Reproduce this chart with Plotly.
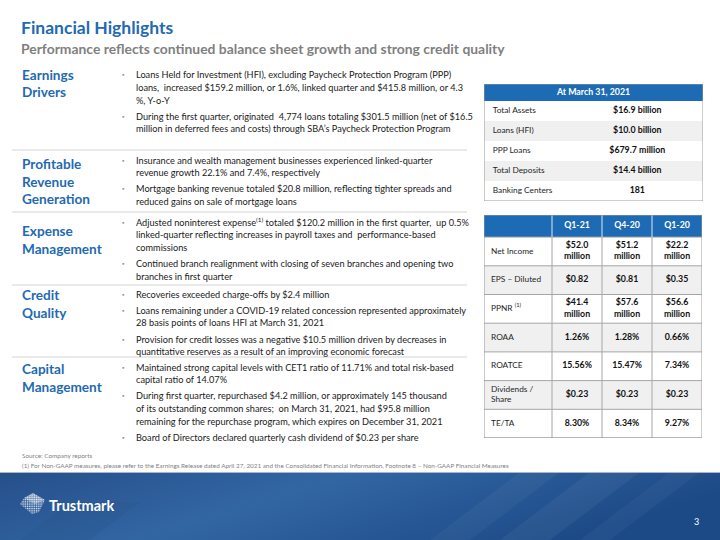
import base64
import plotly.graph_objects as go

W, H = 720, 540
FONT = "Lato"

# ---------------- data ----------------
title = "Financial Highlights"
subtitle = "Performance reflects continued balance sheet growth and strong credit quality"

section_labels = [
    ["Earnings", "Drivers"],
    ["Profitable", "Revenue", "Generation"],
    ["Expense", "Management"],
    ["Credit", "Quality"],
    ["Capital", "Management"],
]

section_bullets = [
    [
        ["Loans Held for Investment (HFI), excluding Paycheck Protection Program (PPP)",
         "loans,  increased $159.2 million, or 1.6%, linked quarter and $415.8 million, or 4.3",
         "%, Y-o-Y"],
        ["During the first quarter, originated  4,774 loans totaling $301.5 million (net of $16.5",
         "million in deferred fees and costs) through SBA’s Paycheck Protection Program"],
    ],
    [
        ["Insurance and wealth management businesses experienced linked-quarter",
         "revenue growth 22.1% and 7.4%, respectively"],
        ["Mortgage banking revenue totaled $20.8 million, reflecting tighter spreads and",
         "reduced gains on sale of mortgage loans"],
    ],
    [
        ["Adjusted noninterest expense<sup>(1)</sup> totaled $120.2 million in the first quarter,  up 0.5%",
         "linked-quarter reflecting increases in payroll taxes and  performance-based",
         "commissions"],
        ["Continued branch realignment with closing of seven branches and opening two",
         "branches in first quarter"],
    ],
    [
        ["Recoveries exceeded charge-offs by $2.4 million"],
        ["Loans remaining under a COVID-19 related concession represented approximately",
         "28 basis points of loans HFI at March 31, 2021"],
        ["Provision for credit losses was a negative $10.5 million driven by decreases in",
         "quantitative reserves as a result of an improving economic forecast"],
    ],
    [
        ["Maintained strong capital levels with CET1 ratio of 11.71% and total risk-based",
         "capital ratio of 14.07%"],
        ["During first quarter, repurchased $4.2 million, or approximately 145 thousand",
         "of its outstanding common shares;  on March 31, 2021, had $95.8 million",
         "remaining for the repurchase program, which expires on December 31, 2021"],
        ["Board of Directors declared quarterly cash dividend of $0.23 per share"],
    ],
]

t1_header = "At March 31, 2021"
t1_labels = ["Total Assets", "Loans (HFI)", "PPP Loans", "Total Deposits", "Banking Centers"]
t1_values = ["$16.9 billion", "$10.0 billion", "$679.7 million", "$14.4 billion", "181"]

t2_columns = ["Q1-21", "Q4-20", "Q1-20"]
t2_labels = ["Net Income", "EPS – Diluted", "PPNR <sup>(1)</sup>", "ROAA", "ROATCE",
             "Dividends /<br>Share", "TE/TA"]
t2_q1_21 = ["$52.0<br>million", "$0.82", "$41.4<br>million", "1.26%", "15.56%", "$0.23", "8.30%"]
t2_q4_20 = ["$51.2<br>million", "$0.81", "$57.6<br>million", "1.28%", "15.47%", "$0.23", "8.34%"]
t2_q1_20 = ["$22.2<br>million", "$0.35", "$56.6<br>million", "0.66%", "7.34%", "$0.23", "9.27%"]

source_note = "Source: Company reports"
footnote = ("(1) For Non-GAAP measures, please refer to the Earnings Release dated April 27, 2021 and the "
            "Consolidated Financial Information, Footnote 8 – Non-GAAP Financial Measures")
brand = "Trustmark"
page_no = "3"

# ---------------- styles / layout constants ----------------
BLUE = "#1f6ab3"
HEAD_BLUE = "#1d6bb5"
GRAY_TXT = "#7f7f7f"
BODY = "#1a1a1a"
ROW_GRAY = "#f0f0f0"
GRID = "#a6a6a6"


def px(x):
    return x / W


def py(y):
    return 1 - y / H


annotations = []
shapes = []


def text(x, y, s, size, color, bold=False, xanchor="left", family=FONT):
    annotations.append(dict(
        x=px(x), y=py(y), xref="paper", yref="paper", text=(f"<b>{s}</b>" if bold else s),
        showarrow=False, xanchor=xanchor, yanchor="middle", align="left",
        font=dict(family=family, size=size, color=color)))


# title block
text(19, 27, title, 17.5, BLUE, bold=True)
text(19, 48, subtitle, 13.9, GRAY_TXT, bold=True)

# sections
label_top = [75, 164, 231, 295, 369]
bullet_top = [75, 160, 222, 294, 367]
dividers = [150, 212, 285, 357]
LBL_STEP = 17.5
LINE_STEP = 12.6
BULLET_GAP = 3.6

for i, lines in enumerate(section_labels):
    for j, ln in enumerate(lines):
        text(20, label_top[i] + j * LBL_STEP, ln, 13.6, BLUE, bold=True)
    y = bullet_top[i]
    for bullet in section_bullets[i]:
        text(120, y, "▪", 6, "#8c8c8c")
        for ln in bullet:
            text(134, y, ln, 9.2, BODY)
            y += LINE_STEP
        y += BULLET_GAP

for yv in dividers:
    shapes.append(dict(type="line", xref="paper", yref="paper", x0=px(12), x1=px(467),
                       y0=py(yv), y1=py(yv), line=dict(color="#d4d4d4", width=1)))

# footer notes
text(20, 455, source_note, 6.35, GRAY_TXT)
text(20, 465, footnote, 6.35, GRAY_TXT)

# ---------------- band image ----------------
band_svg = """<svg xmlns='http://www.w3.org/2000/svg' width='720' height='68' viewBox='0 0 720 68'>
<defs>
<linearGradient id='g' x1='0' y1='0' x2='1' y2='0.3'>
<stop offset='0' stop-color='#264f8b'/>
<stop offset='0.45' stop-color='#3266a3'/>
<stop offset='1' stop-color='#1c4a87'/>
</linearGradient>
<pattern id='d' width='1.8' height='1.8' patternUnits='userSpaceOnUse'>
<rect width='1.1' height='1.1' fill='#ffffff'/>
</pattern>
</defs>
<rect width='720' height='68' fill='url(#g)'/>
<polygon points='430,68 520,0 560,0 470,68' fill='#ffffff' fill-opacity='0.04'/>
<polygon points='500,68 590,0 640,0 550,68' fill='#ffffff' fill-opacity='0.05'/>
<polygon points='580,68 670,0 700,0 610,68' fill='#ffffff' fill-opacity='0.04'/>
<polygon points='20,68 70,30 140,30 90,68' fill='#000000' fill-opacity='0.03'/>
<line x1='0' y1='0.5' x2='720' y2='0.5' stroke='#a9b6c8' stroke-width='1'/>
<polygon points='33,21 45,28 39,40 32,42 20,32 24,26' fill='url(#d)' fill-opacity='0.9'/>
<polygon points='33,21 45,28 35,32 24,26' fill='#ffffff' fill-opacity='0.35'/>
</svg>"""
band_uri = "data:image/svg+xml;base64," + base64.b64encode(band_svg.encode()).decode()

images = [dict(source=band_uri, xref="paper", yref="paper", x=0, y=py(472), sizex=1,
               sizey=68 / H, xanchor="left", yanchor="top", sizing="stretch", layer="below")]

text(47, 505, brand, 14.5, "#ffffff", bold=True)
text(692, 521, page_no, 9, "#ffffff")

fig = go.Figure()

# ---------------- table 1 (axes x / y) ----------------
T1_VALUE_CENTER = 0.70
T1_HEAD = 0.85
n1 = len(t1_labels)
shapes.append(dict(type="rect", xref="x", yref="y", x0=0, x1=1, y0=-T1_HEAD, y1=0,
                   fillcolor=HEAD_BLUE, line=dict(width=0), layer="below"))
for i in range(n1):
    shapes.append(dict(type="rect", xref="x", yref="y", x0=0, x1=1, y0=i, y1=i + 1,
                       fillcolor=(ROW_GRAY if i % 2 else "#ffffff"), line=dict(width=0), layer="below"))
shapes.append(dict(type="rect", xref="x", yref="y", x0=0, x1=1, y0=-T1_HEAD, y1=n1,
                   fillcolor="rgba(0,0,0,0)", line=dict(color="#9a9a9a", width=1)))

rows1 = [i + 0.5 for i in range(n1)]
fig.add_trace(go.Scatter(x=[0.5], y=[-T1_HEAD / 2], mode="text", text=[f"<b>{t1_header}</b>"],
                         textfont=dict(family=FONT, size=8.8, color="#ffffff"),
                         xaxis="x", yaxis="y", hoverinfo="skip", showlegend=False))
fig.add_trace(go.Scatter(x=[0.04] * n1, y=rows1, mode="text", text=t1_labels,
                         textposition="middle right",
                         textfont=dict(family=FONT, size=8.3, color="#262626"),
                         xaxis="x", yaxis="y", hoverinfo="skip", showlegend=False))
fig.add_trace(go.Scatter(x=[T1_VALUE_CENTER] * n1, y=rows1, mode="text",
                         text=[f"<b>{v}</b>" for v in t1_values],
                         textfont=dict(family=FONT, size=8.8, color="#111111"),
                         xaxis="x", yaxis="y", hoverinfo="skip", showlegend=False))

# ---------------- table 2 (axes x2 / y2) ----------------
T2_EDGES = [0, 1.36, 2.36, 3.36, 4.36]
T2_HEAD = 0.77
n2 = len(t2_labels)
shapes.append(dict(type="rect", xref="x2", yref="y2", x0=0, x1=T2_EDGES[-1], y0=-T2_HEAD, y1=0,
                   fillcolor=HEAD_BLUE, line=dict(width=0), layer="below"))
for i in range(n2):
    shapes.append(dict(type="rect", xref="x2", yref="y2", x0=0, x1=T2_EDGES[-1], y0=i, y1=i + 1,
                       fillcolor=(ROW_GRAY if i % 2 else "#ffffff"), line=dict(width=0), layer="below"))
for i in range(n2 + 1):
    shapes.append(dict(type="line", xref="x2", yref="y2", x0=0, x1=T2_EDGES[-1], y0=i, y1=i,
                       line=dict(color=GRID, width=1)))
for e in T2_EDGES[1:-1]:
    shapes.append(dict(type="line", xref="x2", yref="y2", x0=e, x1=e, y0=-T2_HEAD, y1=0,
                       line=dict(color="#dfe8f3", width=1)))
    shapes.append(dict(type="line", xref="x2", yref="y2", x0=e, x1=e, y0=0, y1=n2,
                       line=dict(color=GRID, width=1)))
shapes.append(dict(type="rect", xref="x2", yref="y2", x0=0, x1=T2_EDGES[-1], y0=-T2_HEAD, y1=n2,
                   fillcolor="rgba(0,0,0,0)", line=dict(color="#9a9a9a", width=1)))

rows2 = [i + 0.5 for i in range(n2)]
fig.add_trace(go.Scatter(x=[0.14] * n2, y=rows2, mode="text", text=t2_labels,
                         textposition="middle right",
                         textfont=dict(family=FONT, size=8.3, color="#262626"),
                         xaxis="x2", yaxis="y2", hoverinfo="skip", showlegend=False))
for k, (col, vals) in enumerate(zip(t2_columns, [t2_q1_21, t2_q4_20, t2_q1_20])):
    cx = (T2_EDGES[k + 1] + T2_EDGES[k + 2]) / 2
    fig.add_trace(go.Scatter(x=[cx], y=[-T2_HEAD / 2], mode="text", text=[f"<b>{col}</b>"],
                             textfont=dict(family=FONT, size=8.8, color="#ffffff"),
                             xaxis="x2", yaxis="y2", hoverinfo="skip", showlegend=False))
    fig.add_trace(go.Scatter(x=[cx] * n2, y=rows2, mode="text", text=[f"<b>{v}</b>" for v in vals],
                             textfont=dict(family=FONT, size=8.8, color="#111111"),
                             xaxis="x2", yaxis="y2", hoverinfo="skip", showlegend=False))

ax_common = dict(visible=False, showgrid=False, zeroline=False, fixedrange=True)
fig.update_layout(
    width=W, height=H, margin=dict(l=0, r=0, t=0, b=0),
    paper_bgcolor="#ffffff", plot_bgcolor="rgba(0,0,0,0)",
    xaxis=dict(domain=[px(484), px(703)], range=[0, 1], anchor="y", **ax_common),
    yaxis=dict(domain=[py(201), py(84)], range=[n1, -T1_HEAD], anchor="x", **ax_common),
    xaxis2=dict(domain=[px(484), px(702)], range=[0, T2_EDGES[-1]], anchor="y2", **ax_common),
    yaxis2=dict(domain=[py(438), py(215)], range=[n2, -T2_HEAD], anchor="x2", **ax_common),
    shapes=shapes, annotations=annotations, images=images,
    showlegend=False,
)

fig.write_html("out.html", config={"displayModeBar": False},
               post_script="document.body.style.margin='0';")
